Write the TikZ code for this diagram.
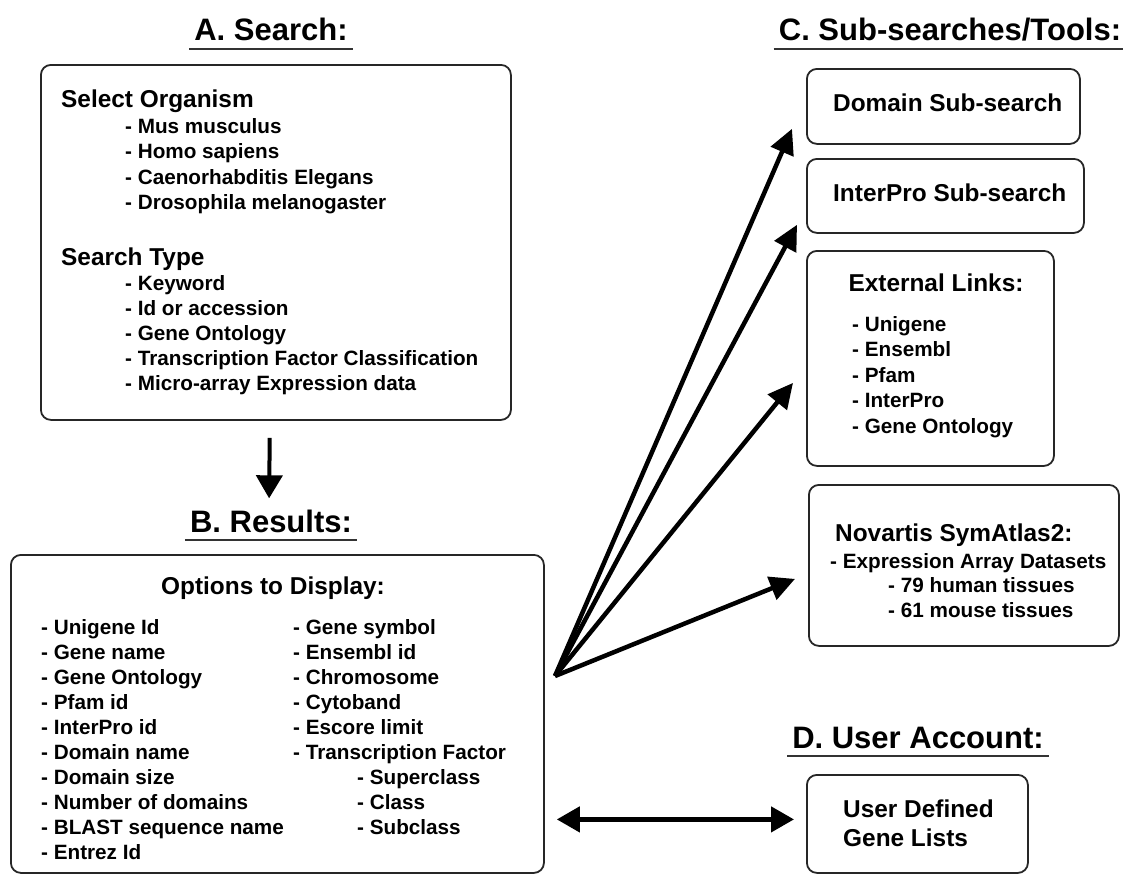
\documentclass[tikz,border=0pt]{standalone}
\usepackage{fontspec}
\setmainfont{Liberation Sans}
\usetikzlibrary{arrows.meta,calc}
\newcommand*\ttlfont{\fontsize{31}{37}\selectfont\bfseries}
\newcommand*\hdfont{\fontsize{24.4}{29}\selectfont\bfseries}
\newcommand*\itmfont{\fontsize{20.7}{25}\selectfont\bfseries}
\tikzset{
  box/.style={draw=black!85, line width=1.8pt, rounded corners=10pt, anchor=north west, inner sep=0pt},
  ttl/.style={font=\ttlfont, anchor=base, inner sep=0pt},
  hd/.style={font=\hdfont, anchor=base west, inner sep=0pt},
  itm/.style={font=\itmfont, anchor=base west, inner sep=0pt},
  uline/.style={line width=1.8pt, black!80},
  bigarrow/.style={line width=4.5pt, -{Triangle[length=25pt,width=24pt]}},
}
\begin{document}
\begin{tikzpicture}[x=1pt, y=-1pt]
  \useasboundingbox (0,0) rectangle (1123,875);

  % section titles
  \node[ttl] (ttlA) at (271,41) {A. Search:};
  \node[ttl] (ttlB) at (271,532) {B. Results:};
  \node[ttl] (ttlC) at (950,41) {C. Sub-searches/Tools:};
  \node[ttl] (ttlD) at (918,748) {D. User Account:};
  \foreach \t in {ttlA,ttlB,ttlC,ttlD}
    \draw[uline] ($(\t.base west)+(-5,8)$) -- ($(\t.base east)+(5,8)$);

  % A. search box
  \node[box, minimum width=470pt, minimum height=355pt] (boxA) at (40,64) {};
  \node[hd] (org) at (61,107.5) {Select Organism};
  \foreach \t [count=\i from 0] in {Mus musculus, Homo sapiens,
      Caenorhabditis Elegans, Drosophila melanogaster}
    \node[itm] (org\i) at (125,{133+25.5*\i}) {- \t};
  \node[hd] (stype) at (61,265.5) {Search Type};
  \foreach \t [count=\i from 0] in {Keyword, Id or accession, Gene Ontology,
      Transcription Factor Classification, Micro-array Expression data}
    \node[itm] (stype\i) at (125,{290+25*\i}) {- \t};

  % B. results box
  \node[box, minimum width=533pt, minimum height=318pt] (boxB) at (10,554) {};
  \node[hd, anchor=base] (opt) at (273,594.5) {Options to Display:};
  \foreach \t [count=\i from 0] in {Unigene Id, Gene name, Gene Ontology, Pfam id,
      InterPro id, Domain name, Domain size, Number of domains,
      BLAST sequence name, Entrez Id}
    \node[itm] (optl\i) at (41,{634+25.1*\i}) {- \t};
  \foreach \t [count=\i from 0] in {Gene symbol, Ensembl id, Chromosome, Cytoband,
      Escore limit, Transcription Factor}
    \node[itm] (optr\i) at (293,{634+25.1*\i}) {- \t};
  \foreach \t [count=\i from 6] in {Superclass, Class, Subclass}
    \node[itm] (optr\i) at (357,{634+25.1*\i}) {- \t};

  % C. sub-searches and tools
  \node[box, minimum width=273pt, minimum height=75pt] (c1) at (806,68) {};
  \node[hd] (c1t) at (833,111.5) {Domain Sub-search};
  \node[box, minimum width=277pt, minimum height=74pt] (c2) at (806,158) {};
  \node[hd] (c2t) at (833,201.5) {InterPro Sub-search};
  \node[box, minimum width=247pt, minimum height=215pt] (c3) at (806,250) {};
  \node[hd, anchor=base] (c3t) at (936,291.5) {External Links:};
  \foreach \t [count=\i from 0] in {Unigene, Ensembl, Pfam, InterPro, Gene Ontology}
    \node[itm] (ext\i) at (852,{331+25.5*\i}) {- \t};
  \node[box, minimum width=310pt, minimum height=161pt] (c4) at (808,484) {};
  \node[hd] (c4t) at (835,541.5) {Novartis SymAtlas2:};
  \node[itm] (nov0) at (830,568) {- Expression Array Datasets};
  \node[itm] (nov1) at (888,592.5) {- 79 human tissues};
  \node[itm] (nov2) at (888,617) {- 61 mouse tissues};

  % D. user account
  \node[box, minimum width=221pt, minimum height=98pt] (boxD) at (806,774) {};
  \node[hd] (usr0) at (843,817.5) {User Defined};
  \node[hd] (usr1) at (843,846.5) {Gene Lists};

  % arrows
  \draw[bigarrow, line width=4pt, -{Triangle[length=23pt,width=26pt]},
    shorten <=17pt, shorten >=11pt] ([xshift=-6pt]boxA.south) -- ([xshift=-2pt]ttlB.north);
  \coordinate (fan) at (555,676);
  \draw[bigarrow] (fan) -- ($(c1.south west)+(-14,-16)$);
  \draw[bigarrow] (fan) -- ($(c2.south west)+(-9,-9)$);
  \draw[bigarrow] (fan) -- ($(c3.west)+(-13,24.5)$);
  \draw[bigarrow] (fan) -- ($(c4.west)+(-13,13.5)$);
  \draw[bigarrow, {Triangle[length=23pt,width=25pt]}-{Triangle[length=23pt,width=25pt]}]
    ($(boxB.east |- boxD.west)+(12,-4.5)$) -- ($(boxD.west)+(-12,-4.5)$);
\end{tikzpicture}
\end{document}
